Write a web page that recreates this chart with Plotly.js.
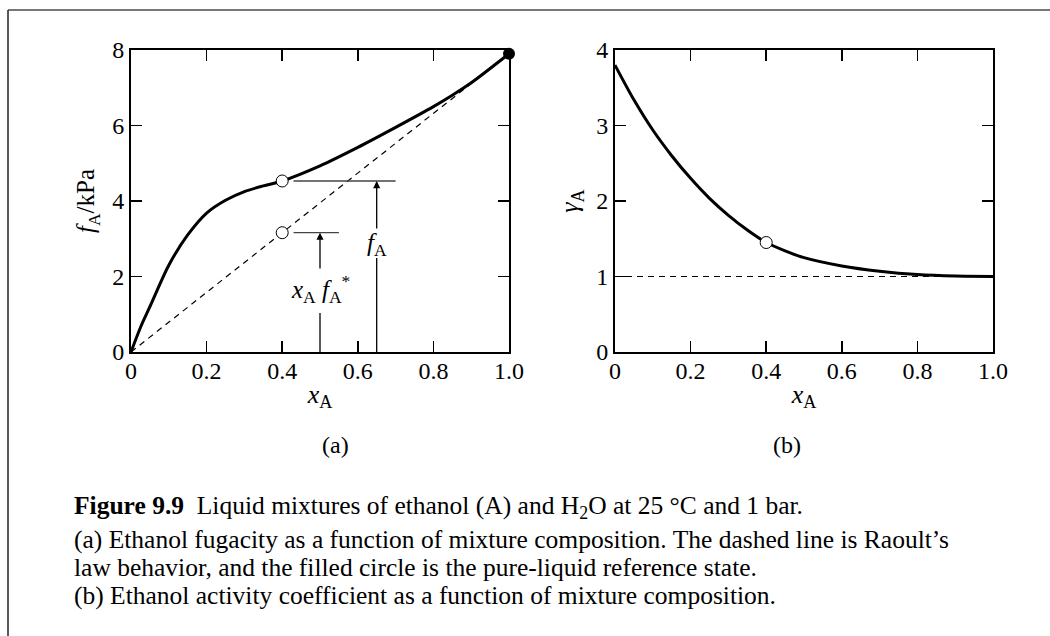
<!DOCTYPE html>
<html>
<head>
<meta charset="utf-8">
<script src="https://cdn.plot.ly/plotly-3.0.1.min.js"></script>
<style>html,body{margin:0;padding:0;background:#fff;}#chart{width:1050px;height:636px;}</style>
</head>
<body>
<div id="chart"></div>
<script>
// ---- Data ----
// (a) ethanol fugacity f_A / kPa vs x_A
const xA_a = [0, 0.025, 0.05, 0.1, 0.15, 0.2, 0.25, 0.3, 0.35, 0.4, 0.5, 0.6, 0.7, 0.8, 0.85, 0.9, 1.0];
const fA   = [0, 0.65, 1.2, 2.3, 3.1, 3.68, 4.02, 4.25, 4.4, 4.53, 4.93, 5.42, 5.95, 6.5, 6.8, 7.13, 7.9];
// Raoult's law line
const raoultX = [0, 1.0];
const raoultY = [0, 7.9];
// open circles on (a)
const openX_a = [0.4, 0.4];
const openY_a = [4.53, 3.16];
// filled circle: pure-liquid reference state
const pureX = [1.0];
const pureY = [7.9];

// (b) activity coefficient gamma_A vs x_A
const xA_b   = [0, 0.05, 0.1, 0.15, 0.2, 0.25, 0.3, 0.35, 0.4, 0.45, 0.5, 0.6, 0.7, 0.8, 0.9, 1.0];
const gammaA = [3.8, 3.34, 2.94, 2.6, 2.3, 2.035, 1.81, 1.615, 1.45, 1.34, 1.25, 1.14, 1.07, 1.025, 1.005, 1.0];
const idealX = [0, 1.0];
const idealY = [1, 1];
const openX_b = [0.4];
const openY_b = [1.45];

// tick labels
const xTicks = [0, 0.2, 0.4, 0.6, 0.8, 1.0];
const xTickText = ["0", "0.2", "0.4", "0.6", "0.8", "1.0"];
const yTicksA = [0, 2, 4, 6, 8];
const yTicksB = [0, 1, 2, 3, 4];

// annotation guide values (a)
const guideF = {x0: 0.43, x1: 0.70, y: 4.53, arrowX: 0.65, lowTop: 2.49, upBottom: 3.23};
const guideR = {x0: 0.43, x1: 0.55, y: 3.16, arrowX: 0.50, lowTop: 1.03, upBottom: 2.17};

const FONT = "Liberation Serif, Times New Roman, serif";
const black = "#000";

const traces = [
  {x: raoultX, y: raoultY, xaxis: "x", yaxis: "y", mode: "lines",
   line: {color: black, width: 1.2, dash: "6px,5px"}, hoverinfo: "skip"},
  {x: xA_a, y: fA, xaxis: "x", yaxis: "y", mode: "lines",
   line: {color: black, width: 3, shape: "spline", smoothing: 0.8}, hoverinfo: "skip"},
  {x: openX_a, y: openY_a, xaxis: "x", yaxis: "y", mode: "markers",
   marker: {symbol: "circle", size: 12, color: "#fff", line: {color: black, width: 1}}, hoverinfo: "skip"},
  {x: pureX, y: pureY, xaxis: "x", yaxis: "y", mode: "markers", cliponaxis: false,
   marker: {symbol: "circle", size: 12, color: black}, hoverinfo: "skip"},
  {x: idealX, y: idealY, xaxis: "x2", yaxis: "y2", mode: "lines",
   line: {color: black, width: 1.2, dash: "6px,5px"}, hoverinfo: "skip"},
  {x: xA_b, y: gammaA, xaxis: "x2", yaxis: "y2", mode: "lines",
   line: {color: black, width: 3, shape: "spline", smoothing: 0.8}, hoverinfo: "skip"},
  {x: openX_b, y: openY_b, xaxis: "x2", yaxis: "y2", mode: "markers",
   marker: {symbol: "circle", size: 12, color: "#fff", line: {color: black, width: 1}}, hoverinfo: "skip"}
];

const ydom = [1 - 352/636, 1 - 50/636];
const axisCommon = {
  showline: true, linecolor: black, linewidth: 2, mirror: "ticks",
  ticks: "inside", ticklen: 11, tickwidth: 1.5, tickcolor: black,
  showgrid: false, zeroline: false, fixedrange: true,
  tickfont: {family: FONT, size: 24, color: black}
};

function seg(xref, yref, x0, y0, x1, y1, color, width) {
  return {type: "line", xref: xref, yref: yref, x0: x0, y0: y0, x1: x1, y1: y1,
          line: {color: color, width: width}};
}
function arrow(xv, yTail, yHead) {
  return {x: xv, y: yHead, ax: xv, ay: yTail, xref: "x", yref: "y", axref: "x", ayref: "y",
          text: "", showarrow: true, arrowhead: 2, arrowsize: 1.1, arrowwidth: 1.3, arrowcolor: black};
}

const shapes = [
  seg("x", "y", guideF.x0, guideF.y, guideF.x1, guideF.y, "#444", 1.3),
  seg("x", "y", guideR.x0, guideR.y, guideR.x1, guideR.y, "#444", 1.3),
  seg("x", "y", guideF.arrowX, 0, guideF.arrowX, guideF.lowTop, black, 1.3),
  seg("x", "y", guideR.arrowX, 0, guideR.arrowX, guideR.lowTop, black, 1.3),
  // figure frame
  seg("paper", "paper", 8/1050, 1 - 10/636, 1, 1 - 10/636, "#777", 2),
  seg("paper", "paper", 8/1050, 0, 8/1050, 1 - 10/636, "#222", 1.5)
];

const capFont = {family: FONT, size: 25.5, color: black};
const py = function (px) { return 1 - px / 636; };
const annotations = [
  arrow(guideF.arrowX, guideF.upBottom, guideF.y),
  arrow(guideR.arrowX, guideR.upBottom, guideR.y),
  {x: guideF.arrowX, y: 2.86, xref: "x", yref: "y", showarrow: false,
   text: "<i>f</i><sub>A</sub>", font: {family: FONT, size: 25, color: black}},
  {x: guideR.arrowX, y: 1.68, xref: "x", yref: "y", showarrow: false,
   text: "<i>x</i><sub>A</sub> <i>f</i><sub>A</sub><sup>*</sup>", font: {family: FONT, size: 25, color: black}},
  {x: 320/1050, y: py(460), xref: "paper", yref: "paper", showarrow: false,
   text: "(a)", font: {family: FONT, size: 24, color: black}},
  {x: 803/1050, y: py(460), xref: "paper", yref: "paper", showarrow: false,
   text: "(b)", font: {family: FONT, size: 24, color: black}},
  {x: 72/1050, y: py(525), xref: "paper", yref: "paper", xanchor: "left", showarrow: false,
   text: "<b>Figure 9.9</b>  Liquid mixtures of ethanol (A) and H<sub>2</sub>O at 25 °C and 1 bar.", font: capFont},
  {x: 72/1050, y: py(556), xref: "paper", yref: "paper", xanchor: "left", showarrow: false,
   text: "(a) Ethanol fugacity as a function of mixture composition. The dashed line is Raoult’s", font: capFont},
  {x: 72/1050, y: py(584), xref: "paper", yref: "paper", xanchor: "left", showarrow: false,
   text: "law behavior, and the filled circle is the pure-liquid reference state.", font: capFont},
  {x: 72/1050, y: py(612), xref: "paper", yref: "paper", xanchor: "left", showarrow: false,
   text: "(b) Ethanol activity coefficient as a function of mixture composition.", font: capFont}
];

const layout = {
  width: 1050, height: 636,
  margin: {l: 0, r: 0, t: 0, b: 0},
  paper_bgcolor: "#fff", plot_bgcolor: "#fff",
  showlegend: false,
  font: {family: FONT, size: 24, color: black},
  xaxis: Object.assign({}, axisCommon, {
    domain: [131/1050, 509/1050], range: [0, 1], anchor: "y",
    tickvals: xTicks, ticktext: xTickText, ticklabelstandoff: -4,
    title: {text: "<i>x</i><sub>A</sub>", font: {family: FONT, size: 26, color: black}, standoff: 2}
  }),
  yaxis: Object.assign({}, axisCommon, {
    domain: ydom, range: [0, 8], anchor: "x", tickvals: yTicksA,
    title: {text: "<i>f</i><sub>A</sub>/kPa", font: {family: FONT, size: 25, color: black}, standoff: 10}
  }),
  xaxis2: Object.assign({}, axisCommon, {
    domain: [615/1050, 993/1050], range: [0, 1], anchor: "y2",
    tickvals: xTicks, ticktext: xTickText, ticklabelstandoff: -4,
    title: {text: "<i>x</i><sub>A</sub>", font: {family: FONT, size: 26, color: black}, standoff: 2}
  }),
  yaxis2: Object.assign({}, axisCommon, {
    domain: ydom, range: [0, 4], anchor: "x2", tickvals: yTicksB,
    title: {text: "<i>γ</i><sub>A</sub>", font: {family: FONT, size: 26, color: black}, standoff: 10}
  }),
  shapes: shapes,
  annotations: annotations
};

Plotly.newPlot("chart", traces, layout, {staticPlot: true, displayModeBar: false});
</script>
</body>
</html>
